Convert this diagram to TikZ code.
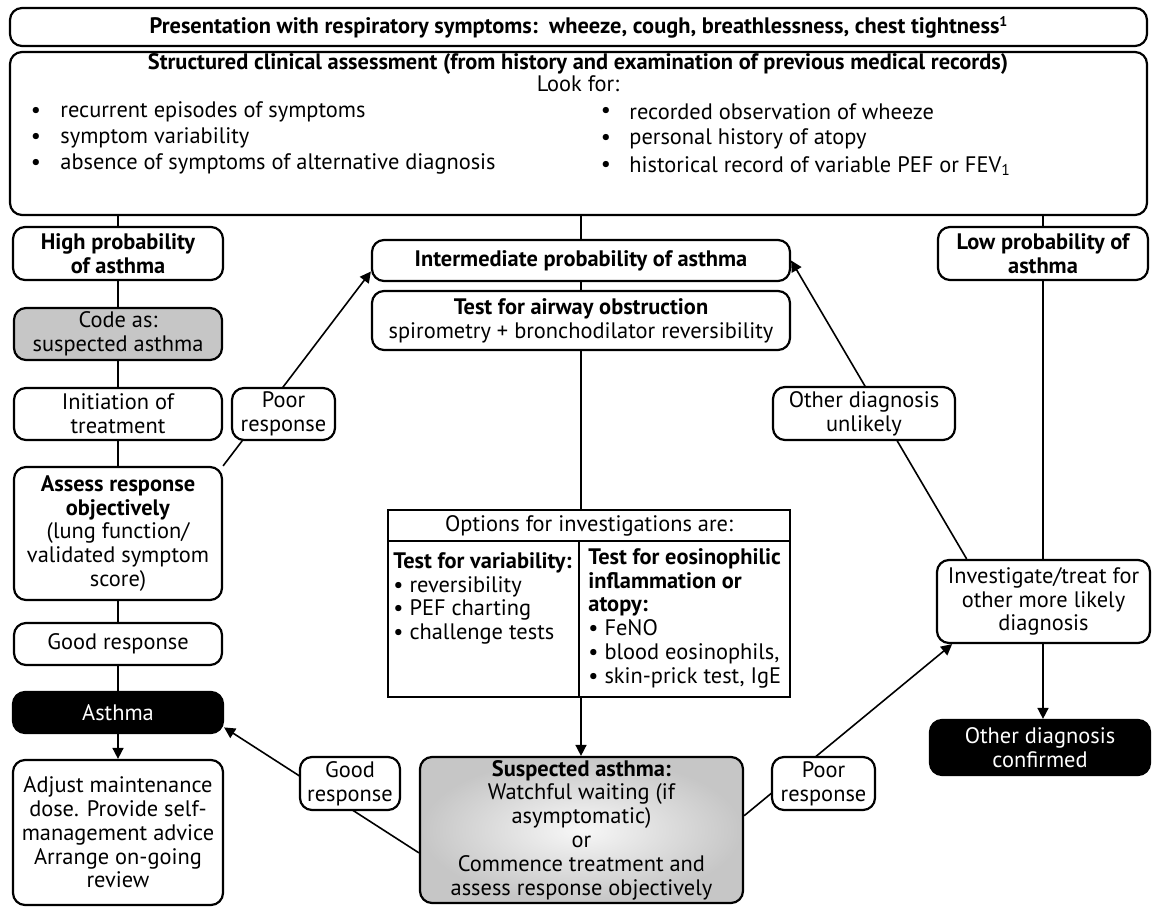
\documentclass[tikz,border=0pt]{standalone}
\usepackage{fontspec}
\setmainfont{PT Sans}
\usetikzlibrary{arrows.meta,backgrounds}
\newcommand\myfs{\fontsize{11.2}{11.9}\selectfont}
\tikzset{
  sz/.style 2 args={minimum width=#1*0.5pt, minimum height=#2*0.5pt},
  box/.style={draw, line width=1.1pt, rounded corners=6pt, align=center, inner sep=1pt, fill=white, font=\myfs},
  bbox/.style={box, font=\myfs\bfseries},
  blk/.style={box, fill=black, text=white},
  txt/.style={inner sep=0pt, align=left, font=\myfs},
  ln/.style={line width=0.8pt},
  arr/.style={line width=0.8pt, -{Triangle[length=5.5pt,width=5.5pt]}},
}
\begin{document}
\begin{tikzpicture}[x=0.5pt,y=-0.5pt]
\useasboundingbox (0,0) rectangle (1152,908);
% top
\node[bbox, sz={1137}{38}] (pres) at (578.5,27) {Presentation with respiratory symptoms:\ \ wheeze, cough, breathlessness, chest tightness{\fontsize{7}{8}\selectfont\raisebox{3.5pt}{1}}};
\node[box, sz={1137}{163}] (struct) at (578.5,133.5) {};
\node[txt, font=\myfs\bfseries] (stitle) at (578,64) {Structured clinical assessment (from history and examination of previous medical records)};
\node[txt] (look) at (578,84) {Look for:};
\node[txt] (bl1) at (36,112) {\textbullet};
\node[txt] (bl2) at (36,138) {\textbullet};
\node[txt] (bl3) at (36,164) {\textbullet};
\node[txt, anchor=west] (tl1) at (60,112) {recurrent episodes of symptoms};
\node[txt, anchor=west] (tl2) at (60,138) {symptom variability};
\node[txt, anchor=west] (tl3) at (60,164) {absence of symptoms of alternative diagnosis};
\node[txt] (br1) at (606,112) {\textbullet};
\node[txt] (br2) at (606,139) {\textbullet};
\node[txt] (br3) at (606,166) {\textbullet};
\node[txt, anchor=west] (tr1) at (629,112) {recorded observation of wheeze};
\node[txt, anchor=west] (tr2) at (629,139) {personal history of atopy};
\node[txt, anchor=west] (tr3) at (629,166) {historical record of variable PEF or FEV\textsubscript{1}};
% left column
\node[bbox, sz={210}{53}] (high) at (118,253.5) {High probability\\of asthma};
\node[box, sz={208}{52}, fill=gray!45] (code) at (118,334) {Code as:\\suspected asthma};
\node[box, sz={208}{52}] (init) at (118,414) {Initiation of\\treatment};
\node[box, sz={208}{133}] (assess) at (118,533.5) {\textbf{Assess response}\\\textbf{objectively}\\(lung function/\\validated symptom\\score)};
\node[box, sz={208}{42}] (good) at (118,644) {Good response};
\node[blk, sz={210}{41}] (asthma) at (118,712.5) {Asthma};
\node[box, sz={210}{145}] (adjust) at (118,832.5) {Adjust maintenance\\dose. Provide self-\\management advice\\Arrange on-going\\review};
% centre
\node[bbox, sz={418}{41}] (inter) at (581,260.5) {Intermediate probability of asthma};
\node[box, sz={418}{59}] (test) at (581,320.5) {\textbf{Test for airway obstruction}\\spirometry + bronchodilator reversibility};
\node[draw, line width=0.9pt, sz={402}{187}, inner sep=0pt] (opt) at (589,603.5) {};
\draw[line width=0.9pt] (388,541) -- (790,541);
\draw[line width=0.9pt] (579,541) -- (579,697);
\node[txt] (opth) at (589,526) {Options for investigations are:};
\node[txt, anchor=north west] (optl) at (393,552) {\textbf{Test for variability:}\\\textbullet\ reversibility\\\textbullet\ PEF charting\\\textbullet\ challenge tests};
\node[txt, anchor=north west] (optr) at (588,548) {\textbf{Test for eosinophilic}\\\textbf{inflammation or}\\\textbf{atopy:}\\\textbullet\ FeNO\\\textbullet\ blood eosinophils,\\\textbullet\ skin-prick test, IgE};
\node[box, sz={323}{146}, inner color=gray!6, outer color=gray!45] (susp) at (581.5,830) {\textbf{Suspected asthma:}\\Watchful waiting (if\\asymptomatic)\\or\\Commence treatment and\\assess response objectively};
% right column
\node[bbox, sz={210}{53}] (low) at (1043,253.5) {Low probability of\\asthma};
\node[box, sz={213}{83}] (inv) at (1043.5,601.5) {Investigate/treat for\\other more likely\\diagnosis};
\node[blk, sz={220}{55}] (conf) at (1040,747.5) {Other diagnosis\\confirmed};
% labels on diagonals
\node[box, sz={103}{52}] (poorl) at (283.5,414) {Poor\\response};
\node[box, sz={182}{53}] (unlik) at (864,413.5) {Other diagnosis\\unlikely};
\node[box, sz={100}{53}] (goodb) at (350,783.5) {Good\\response};
\node[box, sz={103}{53}] (poorr) at (823.5,783.5) {Poor\\response};
% connectors
\draw[ln] (struct.south -| high.north) -- (high.north);
\draw[ln] (struct.south -| inter.north) -- (inter.north);
\draw[ln] (struct.south -| low.north) -- (low.north);
\draw[ln] (inter.south) -- (test.north);
\draw[ln] (high.south) -- (code.north);
\draw[ln] (code.south) -- (init.north);
\draw[ln] (init.south) -- (assess.north);
\draw[ln] (assess.south) -- (good.north);
\draw[ln] (good.south) -- (asthma.north);
\draw[arr] (asthma.south) -- (adjust.north);
\draw[ln] (test.south) -- (test.south |- opt.north);
\draw[arr] (opt.south -| test.south) -- (susp.north -| test.south);
\draw[ln] (low.south) -- (low.south |- inv.north);
\draw[arr] (inv.south -| low.south) -- (conf.north -| low.south);
\begin{scope}[on background layer]
\draw[arr] (assess.north east) -- (inter.183);
\draw[arr] (inv.151) -- (inter.east);
\draw[arr] (susp.188) -- (asthma.-8);
\draw[arr] (susp.5) -- (inv.205);
\end{scope}
\end{tikzpicture}
\end{document}
